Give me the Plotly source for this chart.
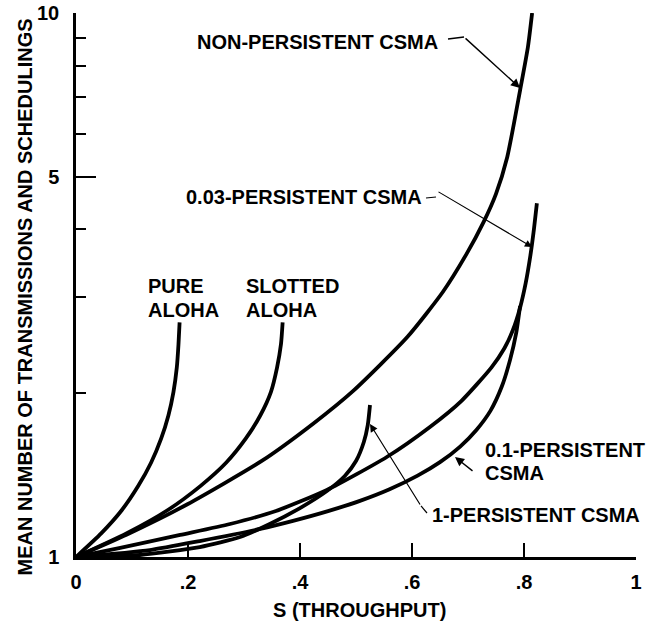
import plotly.graph_objects as go

# ---- data ----
# S = throughput (x), N = mean number of transmissions and schedulings (y, log scale)
pure_aloha_s = [0, 0.045, 0.082, 0.111, 0.134, 0.152, 0.165, 0.174, 0.180, 0.183, 0.185]
pure_aloha_n = [1, 1.105, 1.22, 1.35, 1.49, 1.65, 1.82, 2.01, 2.23, 2.46, 2.70]

slotted_aloha_s = [0, 0.090, 0.164, 0.222, 0.268, 0.303, 0.329, 0.348, 0.359, 0.366, 0.369]
slotted_aloha_n = [1, 1.105, 1.22, 1.35, 1.49, 1.65, 1.82, 2.01, 2.23, 2.46, 2.70]

nonpersistent_s = [0, 0.091, 0.199, 0.331, 0.424, 0.495, 0.592, 0.655, 0.697, 0.728,
                   0.750, 0.770, 0.793, 0.807, 0.8145]
nonpersistent_n = [1, 1.10, 1.25, 1.50, 1.76, 2.02, 2.54, 3.07, 3.60, 4.13,
                   4.65, 5.43, 7.21, 8.66, 10.0]

p003_s = [0, 0.079, 0.186, 0.275, 0.357, 0.448, 0.555, 0.632, 0.688, 0.742, 0.765,
          0.780, 0.793, 0.803, 0.811, 0.817, 0.823]
p003_n = [1, 1.039, 1.098, 1.150, 1.215, 1.328, 1.527, 1.734, 1.935, 2.232, 2.420,
          2.611, 2.873, 3.187, 3.560, 3.948, 4.471]

p01_s = [0, 0.132, 0.221, 0.329, 0.3875, 0.450, 0.507, 0.560, 0.610, 0.650, 0.686,
         0.715, 0.740, 0.760, 0.775, 0.786, 0.793]
p01_n = [1, 1.030, 1.070, 1.126, 1.165, 1.214, 1.268, 1.332, 1.411, 1.494, 1.596,
         1.712, 1.856, 2.053, 2.301, 2.579, 2.894]

p1_s = [0, 0.114, 0.221, 0.293, 0.346, 0.400, 0.448, 0.480, 0.500, 0.514, 0.521, 0.525]
p1_n = [1, 1.0085, 1.043, 1.088, 1.150, 1.230, 1.322, 1.409, 1.501, 1.627, 1.748, 1.903]

x_ticks = [0, 0.2, 0.4, 0.6, 0.8, 1]
x_tick_labels = ["0", ".2", ".4", ".6", ".8", "1"]
y_ticks = [1, 5, 10]
y_tick_labels = ["1", "5", "10"]

FONT = "Liberation Sans, Arial, sans-serif"

fig = go.Figure()
curves = [
    (pure_aloha_s, pure_aloha_n, "Pure ALOHA"),
    (slotted_aloha_s, slotted_aloha_n, "Slotted ALOHA"),
    (nonpersistent_s, nonpersistent_n, "Non-persistent CSMA"),
    (p003_s, p003_n, "0.03-persistent CSMA"),
    (p01_s, p01_n, "0.1-persistent CSMA"),
    (p1_s, p1_n, "1-persistent CSMA"),
]
for s, n, name in curves:
    fig.add_trace(go.Scatter(
        x=s, y=n, mode="lines", name=name, showlegend=False, cliponaxis=False,
        line=dict(color="black", width=3.8, shape="spline", smoothing=0.6),
    ))

def ann(text, x, y, xanchor="left"):
    return dict(text=text, x=x, y=y, xref="paper", yref="paper", xanchor=xanchor,
                yanchor="middle", showarrow=False,
                font=dict(family=FONT, size=20, color="black", weight="bold"))

def arrow(x, y, ax, ay, width=1.4):
    return dict(text="", x=x, y=y, xref="paper", yref="paper", ax=ax, ay=ay,
                showarrow=True, arrowhead=2, arrowsize=1.3, arrowwidth=width,
                arrowcolor="black", standoff=0, startstandoff=0)

annotations = [
    ann("NON-PERSISTENT CSMA", 0.2125, 0.9467),
    ann("0.03-PERSISTENT CSMA", 0.1929, 0.6618),
    ann("PURE", 0.125, 0.4982),
    ann("ALOHA", 0.125, 0.454),
    ann("SLOTTED", 0.300, 0.4982),
    ann("ALOHA", 0.300, 0.454),
    ann("0.1-PERSISTENT", 0.7268, 0.1967),
    ann("CSMA", 0.7268, 0.1544),
    ann("1-PERSISTENT CSMA", 0.6321, 0.0772),
    arrow(0.7929, 0.8621, -56, -51),
    arrow(0.8143, 0.5699, -95, -56, width=1.1),
    arrow(0.6768, 0.1838, 19, 15),
    arrow(0.525, 0.2445, 51, 82, width=1.2),
    dict(text="MEAN NUMBER OF TRANSMISSIONS AND SCHEDULINGS", x=-0.0911, y=0.4789,
         xref="paper", yref="paper", xanchor="center", yanchor="middle",
         textangle=-90, showarrow=False,
         font=dict(family=FONT, size=20, color="black", weight="bold")),
    dict(text="S (THROUGHPUT)", x=0.507, y=-0.0974, xref="paper", yref="paper",
         xanchor="center", yanchor="middle", showarrow=False,
         font=dict(family=FONT, size=20, color="black", weight="bold")),
]

shapes = [
    dict(type="line", xref="paper", yref="paper", x0=0.6643, y0=0.9522, x1=0.6929, y1=0.9559,
         line=dict(color="black", width=1.4)),
    dict(type="line", xref="paper", yref="paper", x0=0.6250, y0=0.6599, x1=0.6429, y1=0.6618,
         line=dict(color="black", width=1.1)),
    dict(type="line", xref="paper", yref="paper", x0=0.6161, y0=0.0938, x1=0.6268, y1=0.0809,
         line=dict(color="black", width=1.2)),
]

fig.update_layout(
    width=656, height=621,
    margin=dict(l=76, r=20, t=13, b=64, autoexpand=False),
    paper_bgcolor="white", plot_bgcolor="white",
    font=dict(family=FONT, size=20, color="black", weight="bold"),
    annotations=annotations, shapes=shapes,
    xaxis=dict(range=[0, 1], tickvals=x_ticks, ticktext=x_tick_labels,
               ticks="inside", ticklen=14, tickwidth=2, tickcolor="black",
               showline=True, linewidth=2.5, linecolor="black", automargin=False,
               showgrid=False, zeroline=False, ticklabelstandoff=5,
               ticklabeloverflow="allow",
               tickfont=dict(family=FONT, size=20, color="black", weight="bold")),
    yaxis=dict(type="log", range=[0, 1], tickvals=y_ticks, ticktext=y_tick_labels,
               ticks="inside", ticklen=20, tickwidth=2, tickcolor="black",
               minor=dict(ticks="inside", ticklen=10, tickwidth=2, tickcolor="black",
                          dtick="D1", showgrid=False),
               showline=True, linewidth=2.5, linecolor="black", automargin=False,
               showgrid=False, zeroline=False, ticklabelstandoff=10,
               ticklabeloverflow="allow",
               tickfont=dict(family=FONT, size=20, color="black", weight="bold")),
)

# remove the default page margin so the 656x621 figure fills the window exactly
fig.write_html(
    "out.html",
    config={"displayModeBar": False},
    post_script="document.body.style.margin='0';document.body.style.overflow='hidden';",
)
